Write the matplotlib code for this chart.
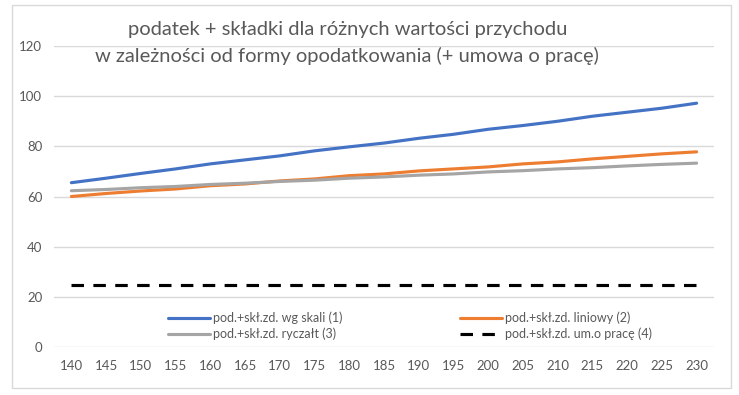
import matplotlib.pyplot as plt
from matplotlib.patches import Rectangle

# przychod (x categories)
przychod = [140, 145, 150, 155, 160, 165, 170, 175, 180, 185,
            190, 195, 200, 205, 210, 215, 220, 225, 230]

wg_skali = [65.5, 67.3, 69.2, 71.0, 73.0, 74.6, 76.2, 78.2, 79.8, 81.3,
            83.2, 84.8, 86.8, 88.3, 90.0, 92.0, 93.6, 95.2, 97.2]
liniowy = [60.0, 61.2, 62.2, 63.0, 64.3, 65.0, 66.2, 67.0, 68.3, 69.0,
           70.2, 71.0, 71.8, 73.0, 73.8, 75.0, 76.0, 77.0, 77.8]
ryczalt = [62.3, 62.8, 63.5, 64.0, 64.8, 65.3, 66.0, 66.5, 67.3, 67.8,
           68.5, 69.0, 69.8, 70.3, 71.0, 71.5, 72.2, 72.8, 73.3]
um_o_prace = [24.7] * 19

labels = ['pod.+skł.zd. wg skali (1)', 'pod.+skł.zd. liniowy (2)',
          'pod.+skł.zd. ryczałt (3)', 'pod.+skł.zd. um.o pracę (4)']

plt.rcParams['font.family'] = ['Lato', 'DejaVu Sans']
txt = '#595959'

fig = plt.figure(figsize=(7.39, 3.95), dpi=100)
fig.patches.append(Rectangle((12 / 739, 1 - 388 / 395), 719 / 739, 383 / 395,
                             transform=fig.transFigure, fill=False,
                             edgecolor='#d9d9d9', linewidth=1))

ax = fig.add_axes([54 / 739, 1 - 347 / 395, 660 / 739, 301 / 395])
x = range(len(przychod))
l1, = ax.plot(x, wg_skali, color='#4472c4', lw=2.25, solid_capstyle='round')
l2, = ax.plot(x, liniowy, color='#ed7d31', lw=2.25, solid_capstyle='round')
l3, = ax.plot(x, ryczalt, color='#a5a5a5', lw=2.25, solid_capstyle='round')
l4, = ax.plot(x, um_o_prace, color='black', lw=2.25, dashes=(4, 3))

ax.set_xlim(-0.5, len(przychod) - 0.5)
ax.set_ylim(0, 120)
ax.set_yticks(range(0, 121, 20))
ax.set_xticks(list(x))
ax.set_xticklabels([str(v) for v in przychod])
ax.grid(axis='y', color='#d9d9d9', lw=1)
ax.set_axisbelow(True)
for s in ax.spines.values():
    s.set_visible(False)
ax.tick_params(length=0, labelcolor=txt, labelsize=9.5)
ax.tick_params(axis='y', pad=8.5)
ax.tick_params(axis='x', pad=9)

fig.legend([l1, l3, l2, l4], [labels[0], labels[2], labels[1], labels[3]],
           ncol=2, loc='center left', bbox_to_anchor=(157 / 739, 1 - 326 / 395),
           frameon=False, fontsize=9, labelcolor=txt, handlelength=3.3,
           handletextpad=0.3, columnspacing=9.4, labelspacing=0.25)

fig.text(0.47, 1 - 29 / 395, 'podatek + składki dla różnych wartości przychodu',
         ha='center', va='center', fontsize=14.5, color=txt)
fig.text(0.47, 1 - 56 / 395, 'w zależności od formy opodatkowania (+ umowa o pracę)',
         ha='center', va='center', fontsize=14.5, color=txt)

fig.savefig('out.png', dpi=100)
